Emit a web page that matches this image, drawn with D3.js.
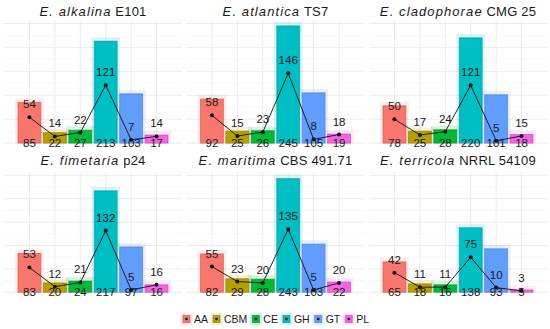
<!DOCTYPE html>
<html><head><meta charset="utf-8">
<script src="https://cdn.jsdelivr.net/npm/d3@7"></script>
<style>body{margin:0;background:#fff}svg{display:block;font-family:"Liberation Sans",Arial,sans-serif}</style>
</head><body><svg id="c" width="550" height="329"></svg>
<script>
const species = ["E. alkalina","E. atlantica","E. cladophorae","E. fimetaria","E. maritima","E. terricola"];
const strains = ["E101","TS7","CMG 25","p24","CBS 491.71","NRRL 54109"];
const categories = ["AA","CBM","CE","GH","GT","PL"];
const colors = ["#F8766D","#B79F00","#00BA38","#00BFC4","#619CFF","#F564E3"];
const barAlkalina = [85,22,27,213,103,17];
const barAtlantica = [92,25,26,245,105,19];
const barCladophorae = [78,25,28,220,101,18];
const barFimetaria = [83,20,24,217,97,16];
const barMaritima = [82,29,28,243,103,22];
const barTerricola = [65,18,16,138,93,5];
const lineAlkalina = [54,14,22,121,7,14];
const lineAtlantica = [58,15,23,146,8,18];
const lineCladophorae = [50,17,24,121,5,15];
const lineFimetaria = [53,12,21,132,5,16];
const lineMaritima = [55,23,20,135,5,20];
const lineTerricola = [42,11,11,75,10,3];
const yTicks = [0,50,100,150,200,250];
const yMinor = [25,75,125,175,225];

const bars = [barAlkalina,barAtlantica,barCladophorae,barFimetaria,barMaritima,barTerricola];
const lines = [lineAlkalina,lineAtlantica,lineCladophorae,lineFimetaria,lineMaritima,lineTerricola];

const svg = d3.select("#c");
const panelW = 178, gap = 4.5, left0 = 4;
const rows = [{top:20, h:129, ty:16}, {top:172, h:126, ty:165}];
const ymax = 245*1.05, ymin = -245*0.05;

bars.forEach((bv, i) => {
  const col = i % 3, row = Math.floor(i / 3);
  const px = left0 + col * (panelW + gap);
  const R = rows[row];
  const g = svg.append("g").attr("transform", `translate(${px},${R.top})`);
  const x = d3.scaleBand().domain(categories).range([0, panelW]).paddingInner(0.1).paddingOuter(0.55);
  const y = d3.scaleLinear().domain([ymin, ymax]).range([R.h, 0]);
  g.selectAll(".mn").data(yMinor).join("line")
    .attr("x1",0).attr("x2",panelW).attr("y1",d=>y(d)).attr("y2",d=>y(d))
    .attr("stroke","#f3f3f3").attr("stroke-width",0.6);
  g.selectAll(".mj").data(yTicks).join("line")
    .attr("x1",0).attr("x2",panelW).attr("y1",d=>y(d)).attr("y2",d=>y(d))
    .attr("stroke","#ebebeb").attr("stroke-width",1);
  g.selectAll(".vg").data(categories).join("line")
    .attr("x1",d=>x(d)+x.bandwidth()/2).attr("x2",d=>x(d)+x.bandwidth()/2)
    .attr("y1",0).attr("y2",R.h).attr("stroke","#ebebeb").attr("stroke-width",1);
  g.selectAll(".halo").data(bv).join("rect")
    .attr("x",(d,j)=>x(categories[j])-3).attr("width",x.bandwidth()+6)
    .attr("y",d=>y(d)-4).attr("height",d=>y(0)-y(d)+4)
    .attr("fill",(d,j)=>colors[j]).attr("opacity",0.14);
  g.selectAll(".bar").data(bv).join("rect")
    .attr("x",(d,j)=>x(categories[j])).attr("width",x.bandwidth())
    .attr("y",d=>y(d)).attr("height",d=>y(0)-y(d))
    .attr("fill",(d,j)=>colors[j])
    .attr("stroke",(d,j)=>d3.color(colors[j]).darker(0.8)).attr("stroke-opacity",0.6).attr("stroke-width",1);
  const lv = lines[i];
  const cx = j => x(categories[j]) + x.bandwidth()/2;
  g.append("path").datum(lv)
    .attr("d", d3.line().x((d,j)=>cx(j)).y(d=>y(d)))
    .attr("fill","none").attr("stroke","#111").attr("stroke-width",0.9);
  g.selectAll(".pt").data(lv).join("circle")
    .attr("cx",(d,j)=>cx(j)).attr("cy",d=>y(d)).attr("r",2).attr("fill","#111");
  g.selectAll(".pl").data(lv).join("text")
    .attr("x",(d,j)=>cx(j)).attr("y",d=>y(d)-9)
    .attr("text-anchor","middle").attr("font-size",11.5).attr("fill","#1a1a1a").text(d=>d);
  g.selectAll(".bl").data(bv).join("text")
    .attr("x",(d,j)=>cx(j)).attr("y",y(0)+4)
    .attr("text-anchor","middle").attr("font-size",11.5).attr("fill","#1a1a1a").text(d=>d);
  const t = svg.append("text").attr("x", px + panelW/2).attr("y", R.ty)
    .attr("text-anchor","middle").attr("font-size",13).attr("fill","#1a1a1a");
  t.append("tspan").attr("font-style","italic").attr("letter-spacing",1.1).text(species[i]);
  t.append("tspan").attr("letter-spacing",0.2).text("\u00a0" + strains[i]);
});

const leg = svg.append("g");
let lx = 183;
const ly = 319;
categories.forEach((c, j) => {
  const k = leg.append("g").attr("transform", `translate(${lx},${ly})`);
  k.append("rect").attr("x",-2.5).attr("y",-6).attr("width",12).attr("height",12).attr("fill",colors[j]).attr("opacity",0.18);
  k.append("rect").attr("x",0).attr("y",-3.5).attr("width",7).attr("height",7)
    .attr("fill",colors[j]).attr("stroke",d3.color(colors[j]).darker(0.8)).attr("stroke-opacity",0.6);
  k.append("circle").attr("cx",3.5).attr("cy",0).attr("r",1.3).attr("fill","#111");
  const tx = k.append("text").attr("x",11).attr("y",3.8).attr("font-size",10.5).attr("fill","#1a1a1a").text(c);
  lx += 11 + tx.node().getComputedTextLength() + 5;
});
</script></body></html>
